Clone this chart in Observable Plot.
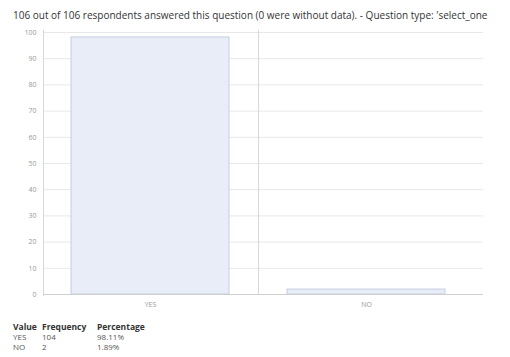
<!DOCTYPE html>
<html>
<head>
<meta charset="utf-8">
<script src="https://cdn.jsdelivr.net/npm/d3@7"></script>
<script src="https://cdn.jsdelivr.net/npm/@observablehq/plot@0.6"></script>
<style>
  body { margin: 0; background: #fff; font-family: "Open Sans", sans-serif; width: 510px; height: 357px; overflow: hidden; }
  #title { height: 22px; padding: 2px 0 0 13px; line-height: 26px; font-size: 10px; color: #333; white-space: nowrap; overflow: hidden; }
  #chart svg { display: block; }
  table { border-collapse: collapse; font-size: 8px; color: #555; margin: 8px 0 0 13px; }
  td, th { padding: 0; height: 10px; line-height: 10px; text-align: left; white-space: nowrap; }
  th { font-weight: 700; color: #333; font-size: 8.5px; }
</style>
</head>
<body>
<div id="title">106 out of 106 respondents answered this question (0 were without data). - Question type: 'select_one</div>
<div id="chart"></div>
<table id="freq"></table>
<script>
// Answers to the question and how often each was given
const answers = ["YES", "NO"];
const frequencies = [104, 2];
const percentages = [98.11, 1.89];
const yTicks = [0, 10, 20, 30, 40, 50, 60, 70, 80, 90, 100];
const tableHeader = ["Value", "Frequency", "Percentage"];

const rows = answers.map((a, i) => ({answer: a, frequency: frequencies[i], percentage: percentages[i]}));

const xRange = [42, 474];
const step = (xRange[1] - xRange[0]) / answers.length;

const chart = Plot.plot({
  width: 510,
  height: 290,
  marginTop: 6,
  marginBottom: 19,
  marginLeft: 43,
  marginRight: 27,
  style: {fontFamily: "Open Sans, sans-serif", fontSize: "7px", color: "#999", background: "#fff"},
  x: {domain: answers, range: xRange, paddingInner: 0.27, paddingOuter: 0.135, label: null},
  y: {domain: [0, 100], range: [270, 8], label: null},
  marks: [
    Plot.gridY(yTicks, {stroke: "#e8e8e8", strokeOpacity: 1}),
    Plot.axisY(yTicks, {tickSize: 0, tickPadding: 7, fill: "#999", fontSize: 7, label: null}),
    Plot.axisX({tickSize: 0, tickPadding: 7, fill: "#999", fontSize: 7, label: null}),
    Plot.frame({anchor: "left", stroke: "#d8d8d8"}),
    // divider between the two answer bands
    Plot.ruleX(answers.slice(1), {x: d => d, dx: -step / 2, stroke: "#d8d8d8"}),
    Plot.barY(rows, {x: "answer", y: "percentage", fill: "#e9edf7", stroke: "#c5cee3", strokeWidth: 1}),
    Plot.ruleY([0], {stroke: "#cfcfcf"})
  ]
});
document.getElementById("chart").append(chart);

// Frequency table below the chart
const table = d3.select("#freq");
table.append("tr").selectAll("th").data(tableHeader).join("th").text(d => d);
const body = table.selectAll("tr.row").data(rows).join("tr").attr("class", "row");
body.append("td").style("width", "29px").text(d => d.answer);
body.append("td").style("width", "55px").text(d => d.frequency);
body.append("td").text(d => d.percentage.toFixed(2) + "%");
</script>
</body>
</html>
